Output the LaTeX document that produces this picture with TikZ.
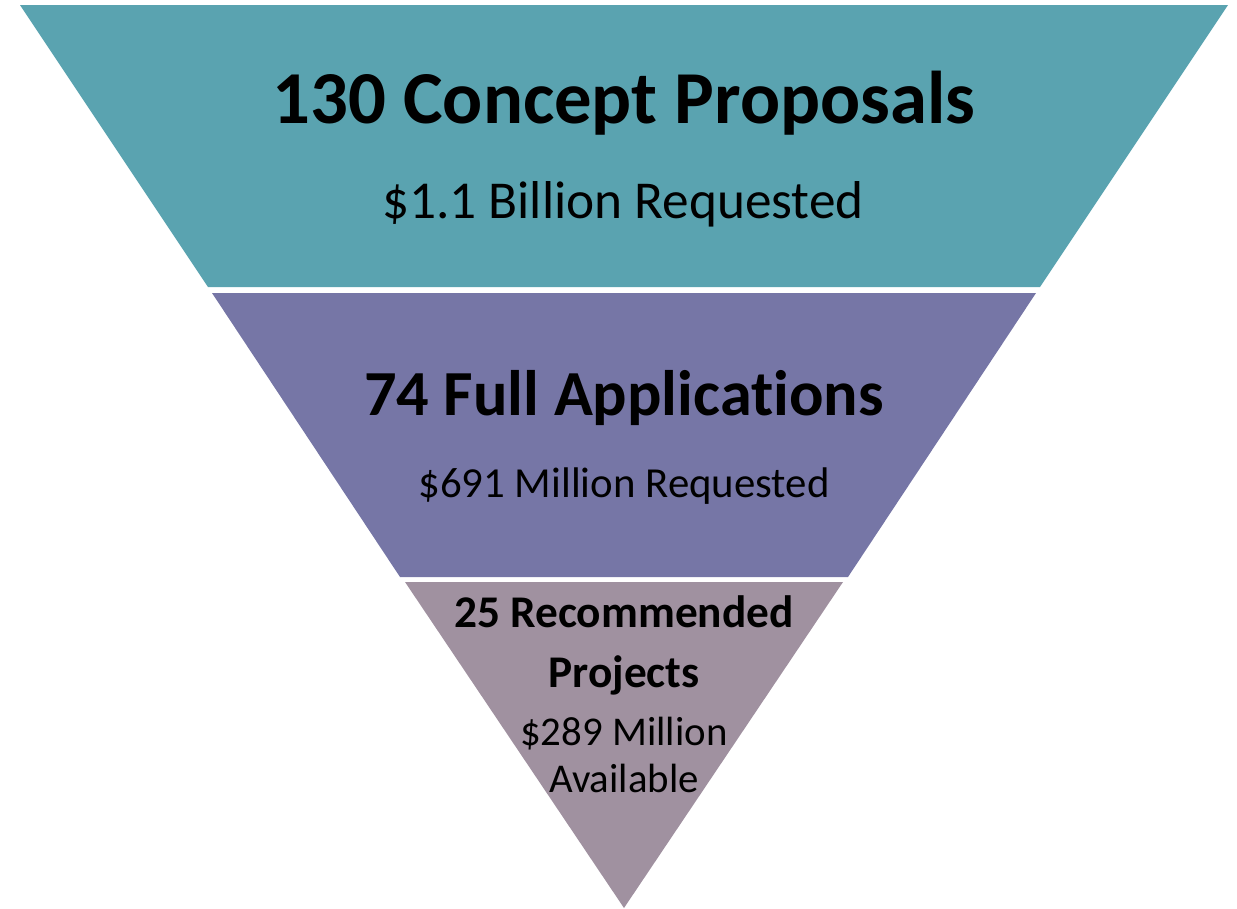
\documentclass[tikz,border=0pt]{standalone}
\usepackage{fontspec}
\setmainfont{Carlito}[Ligatures=NoCommon]
\definecolor{tealband}{RGB}{90,163,176}
\definecolor{purpleband}{RGB}{118,118,166}
\definecolor{mauveband}{RGB}{160,145,160}
\begin{document}
\begin{tikzpicture}[x=1bp,y=-1bp,
  lbl/.style={anchor=base,inner sep=0pt,text=black}]
\useasboundingbox (0,0) rectangle (1237,909);
% funnel stages: one inverted triangle cut into three bands
\fill[tealband]   (20,5) -- (1228,5) -- (1040,287) -- (208,287) -- cycle;
\fill[purpleband] (212,293) -- (1036,293) -- (848,577) -- (400,577) -- cycle;
\fill[mauveband]  (405,582) -- (843,582) -- (624,908) -- cycle;
% stage 1
\node[lbl,font=\fontsize{75}{80}\selectfont\bfseries] (t1) at (624,123) {130 Concept Proposals};
\node[lbl,font=\fontsize{53.5}{58}\selectfont] (s1) at (623,218) {\$1.1 Billion Requested};
% stage 2
\node[lbl,font=\fontsize{64.5}{68}\selectfont\bfseries] (t2) at (624,415) {74 Full Applications};
\node[lbl,font=\fontsize{43}{46}\selectfont] (s2) at (624,497) {\$691 Million Requested};
% stage 3
\node[lbl,font=\fontsize{45.5}{48}\selectfont\bfseries] (t3a) at (624,627) {25 Recommended};
\node[lbl,font=\fontsize{45.5}{48}\selectfont\bfseries] (t3b) at (624,687) {Projects};
\node[lbl,font=\fontsize{41}{44}\selectfont] (s3a) at (624,745) {\$289 Million};
\node[lbl,font=\fontsize{41}{44}\selectfont] (s3b) at (624,792) {Available};
\end{tikzpicture}
\end{document}
